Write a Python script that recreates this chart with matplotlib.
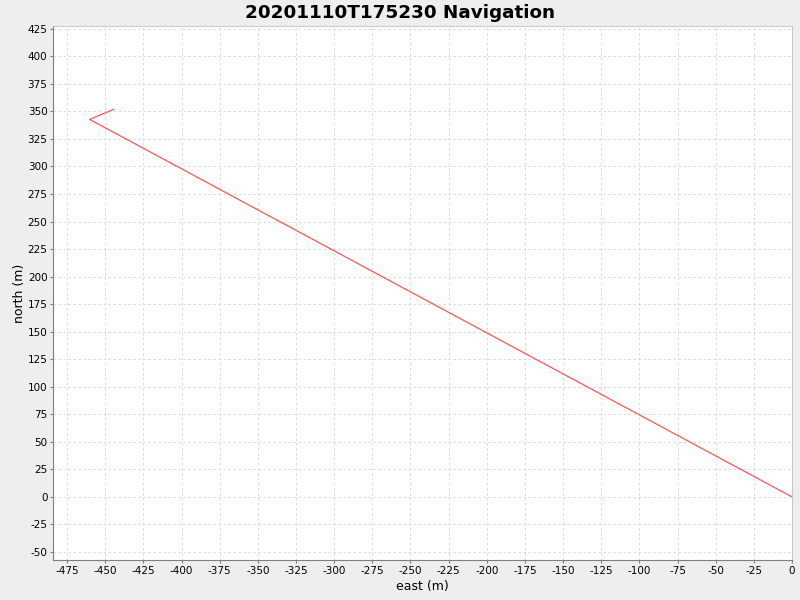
import matplotlib.pyplot as plt
import numpy as np

plt.rcParams["axes.unicode_minus"] = False

east = [0, -460.2, -444.5]
north = [0, 342.7, 351.8]

xticks = np.arange(-475, 1, 25)
yticks = np.arange(-50, 426, 25)

fig = plt.figure(figsize=(8, 6), dpi=100, facecolor="#EEEEEE")
ax = fig.add_axes([53/800, 1-560/600, (792-53)/800, (560-26)/600])
ax.set_facecolor("white")

ax.plot(east, north, color="#FF5555", lw=0.9)

ax.set_xlim(-484.2, 0)
ax.set_ylim(-57.3, 427.5)
ax.set_xticks(xticks)
ax.set_yticks(yticks)
ax.tick_params(labelsize=7.5, length=2, width=0.8, color="#808080", pad=2)

ax.grid(True, ls=(0, (3, 3)), color="#D6D6D6", lw=0.6)
ax.set_axisbelow(True)
for side in ["left", "bottom"]:
    ax.spines[side].set_color("#808080")
for side in ["top", "right"]:
    ax.spines[side].set_color("#C0C0C0")
    ax.spines[side].set_linewidth(0.6)

ax.set_xlabel("east (m)", fontsize=9, labelpad=3)
ax.set_ylabel("north (m)", fontsize=9, labelpad=1)
fig.suptitle("20201110T175230 Navigation", fontsize=13.2, fontweight="bold", y=0.993)

fig.savefig("out.png", dpi=100, facecolor=fig.get_facecolor())
